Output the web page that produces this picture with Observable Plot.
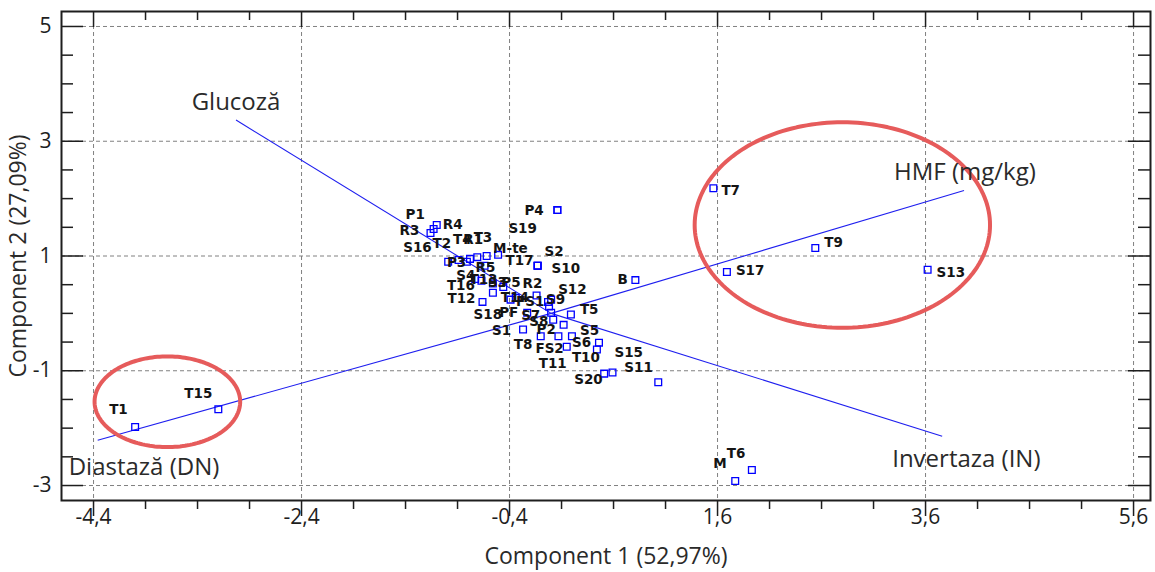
<!DOCTYPE html>
<html>
<head>
<meta charset="utf-8">
<script src="https://cdn.jsdelivr.net/npm/d3@7"></script>
<script src="https://cdn.jsdelivr.net/npm/@observablehq/plot@0.6"></script>
<style>
  html, body { margin: 0; padding: 0; background: #ffffff; }
</style>
</head>
<body>
<div id="chart"></div>
<script>
// PCA biplot: sample scores on the first two components
const sampleNames = ["T1","T15","T7","S17","T9","S13","B","P4","M","T6","S15","S11","S20",
  "P1","R4","R3","S16","T2","T4","R1","T3","M-te","T17","S10","S2","S19",
  "P3","R5","S4","T13","S3","P5","R2","T16","T12","S18","PF","T14","FS1","S9","S12",
  "S1","S7","S8","P2","T5","S5","S6","T8","FS2","T11","T10"];
const comp1 = [-4.00,-3.20,1.56,1.69,2.54,3.62,0.81,0.06,1.77,1.93,0.59,1.03,0.51,
  -1.13,-1.10,-1.16,-0.99,-0.89,-0.78,-0.71,-0.62,-0.51,-0.13,-0.13,-0.13,0.06,
  -0.81,-0.64,-0.73,-0.67,-0.56,-0.46,-0.14,-0.56,-0.66,-0.39,-0.23,-0.34,-0.03,-0.02,0.00,
  -0.27,0.00,0.02,0.12,0.19,0.46,0.20,-0.10,0.07,0.15,0.44];
const comp2 = [-1.98,-1.67,2.18,0.72,1.14,0.76,0.58,1.80,-2.92,-2.73,-1.03,-1.20,-1.05,
  1.47,1.54,1.40,0.90,0.93,0.95,0.98,1.00,1.02,0.83,0.83,0.83,1.80,
  0.90,0.83,0.60,0.57,0.52,0.46,0.31,0.36,0.20,0.24,0.01,0.27,0.20,0.12,0.24,
  -0.28,0.01,-0.11,-0.20,-0.02,-0.51,-0.40,-0.40,-0.40,-0.58,-0.63];

// Variable loadings (vector end points, drawn from the origin)
const variableNames = ["Glucoză", "Invertaza (IN)", "HMF (mg/kg)", "Diastază (DN)"];
const varComp1 = [-3.03, 3.76, 3.97, -4.36];
const varComp2 = [3.37, -2.14, 2.14, -2.21];

// Highlighted groups (centre and semi-axes, in component units)
const groupCx = [2.80, -3.69];
const groupCy = [1.54, -1.54];
const groupRx = [1.42, 0.70];
const groupRy = [1.79, 0.79];

// Axis ticks
const xTicks = [-4.4, -2.4, -0.4, 1.6, 3.6, 5.6];
const yTicks = [5, 3, 1, -1, -3];
const xMinorStep = 0.5;
const yMinorStep = 0.5;

const xTitle = "Component 1 (52,97%)";
const yTitle = "Component 2 (27,09%)";

// ---- layout ----
const W = 1155, H = 572;
const margin = {top: 11, right: 5, bottom: 72, left: 61};
const xDomain = [-4.708, 5.763];
const yDomain = [-3.261, 5.261];
const pxPerX = (W - margin.left - margin.right) / (xDomain[1] - xDomain[0]);
const pxPerY = (H - margin.top - margin.bottom) / (yDomain[1] - yDomain[0]);

// label placement relative to each square (pixels: left edge, vertical middle)
const labelOffset = {
  T1:[-26,-17], T15:[-34,-16], T7:[8,2], S17:[9,-1], T9:[9,-5], S13:[9,3], B:[-18,0], P4:[-33,1],
  M:[-22,-17], T6:[-25,-16], S15:[2,-20], S11:[-34,-15], S20:[-30,6],
  P1:[-28,-14], R4:[6,0], R3:[-31,-2], S16:[-45,-14], T2:[-26,-16], T4:[-17,-19], R1:[-14,-17],
  T3:[-13,-18], "M-te":[-5,-6], T17:[-32,-5], S10:[14,3], S2:[7,-14], S19:[-49,19],
  P3:[-20,1], R5:[-9,2], S4:[-19,-3], T13:[-12,-1], S3:[-5,-1], P5:[-2,-4], R2:[-14,-12],
  T16:[-46,-7], T12:[-35,-3], S18:[-37,15], PF:[-28,0], T14:[-15,0], FS1:[-32,0], S9:[-3,-7],
  S12:[7,-10], S1:[-31,1], S7:[-30,3], S8:[-24,2], P2:[-27,5], T5:[9,-5], S5:[-19,-12],
  S6:[0,6], T8:[-27,8], FS2:[-23,12], T11:[-28,17], T10:[-25,8]
};
const varLabelPlacement = [
  {dx: 0, dy: -18, anchor: "middle"},
  {dx: -50, dy: 23, anchor: "start"},
  {dx: -70, dy: -18, anchor: "start"},
  {dx: -29, dy: 27, anchor: "start"}
];

const samples = sampleNames.map((name, i) => ({name, c1: comp1[i], c2: comp2[i]}));
const variables = variableNames.map((name, i) => ({name, c1: varComp1[i], c2: varComp2[i], i}));

const range = (a, b, s) => d3.range(Math.round((b - a) / s) + 1).map(k => +(a + k * s).toFixed(6));
const xMinor = range(xTicks[0], xTicks[xTicks.length - 1], xMinorStep).filter(v => !xTicks.some(t => Math.abs(t - v) < 1e-9));
const yMinor = range(yTicks[yTicks.length - 1], yTicks[0], yMinorStep).filter(v => !yTicks.includes(v));

const ellipsePoints = groupCx.map((cx, g) =>
  d3.range(0, 361, 2).map(a => ({
    g,
    x: cx + groupRx[g] * Math.cos(a * Math.PI / 180),
    y: groupCy[g] + groupRy[g] * Math.sin(a * Math.PI / 180)
  }))
).flat();

const fmt = v => String(v).replace(".", ",");
const ink = "#1e1e1e";
const gridColor = "#808080";

// tick marks: inward on left/top/right, hanging below the bottom edge
const tickMarks = [];
const yTick = (vals, len) => {
  tickMarks.push(Plot.ruleY(vals, {x1: xDomain[0], x2: xDomain[0] + len / pxPerX, stroke: ink, strokeWidth: 1.5}));
  tickMarks.push(Plot.ruleY(vals, {x1: xDomain[1], x2: xDomain[1] - len / pxPerX, stroke: ink, strokeWidth: 1.5}));
};
const xTick = (vals, len) => {
  tickMarks.push(Plot.ruleX(vals, {y1: yDomain[0], y2: yDomain[0] - len / pxPerY, stroke: ink, strokeWidth: 1.5}));
  tickMarks.push(Plot.ruleX(vals, {y1: yDomain[1], y2: yDomain[1] - len / pxPerY, stroke: ink, strokeWidth: 1.5}));
};
yTick(yTicks, 22); yTick(yMinor, 12);
xTick(xTicks, 16); xTick(xMinor, 9);

const chart = Plot.plot({
  width: W,
  height: H,
  marginTop: margin.top,
  marginRight: margin.right,
  marginBottom: margin.bottom,
  marginLeft: margin.left,
  style: {fontFamily: "'Open Sans', sans-serif", fontSize: "21px", color: ink, background: "#ffffff"},
  x: {domain: xDomain, ticks: xTicks, tickFormat: fmt, tickSize: 0, tickPadding: 9, label: null},
  y: {domain: yDomain, ticks: yTicks, tickFormat: fmt, tickSize: 0, tickPadding: 10, label: null},
  marks: [
    Plot.ruleX(xTicks, {stroke: gridColor, strokeDasharray: "4,3", strokeWidth: 1}),
    Plot.ruleY(yTicks, {stroke: gridColor, strokeDasharray: "4,3", strokeWidth: 1}),
    ...tickMarks,
    Plot.frame({stroke: ink, strokeWidth: 2}),
    Plot.link(variables, {x1: 0, y1: 0, x2: "c1", y2: "c2", stroke: "#1f1fef", strokeWidth: 1.1}),
    Plot.line(ellipsePoints, {x: "x", y: "y", z: "g", stroke: "#e65b5b", strokeWidth: 4, curve: "linear-closed"}),
    Plot.dot(samples, {x: "c1", y: "c2", symbol: "square", r: 3.8, stroke: "#0000ff", strokeWidth: 1.3, fill: "none"}),
    ...samples.map(s => Plot.text([s], {
      x: "c1", y: "c2", text: "name",
      dx: labelOffset[s.name][0], dy: labelOffset[s.name][1],
      textAnchor: "start", lineAnchor: "middle",
      fontFamily: "'DejaVu Sans', sans-serif", fontWeight: "bold", fontSize: 13.5, fill: "#141414"
    })),
    ...variables.map((v, i) => Plot.text([v], {
      x: "c1", y: "c2", text: "name",
      dx: varLabelPlacement[i].dx, dy: varLabelPlacement[i].dy,
      textAnchor: varLabelPlacement[i].anchor, lineAnchor: "middle",
      fontSize: 24, fill: "#2a2a2a"
    })),
    Plot.text([xTitle], {frameAnchor: "bottom", textAnchor: "middle", dy: 56, fontSize: 23, fill: "#2a2a2a", lineAnchor: "middle"}),
    Plot.text([yTitle], {frameAnchor: "left", textAnchor: "middle", dx: -43, rotate: -90, fontSize: 23, fill: "#2a2a2a", lineAnchor: "middle"})
  ]
});
document.getElementById("chart").appendChild(chart);
</script>
</body>
</html>
